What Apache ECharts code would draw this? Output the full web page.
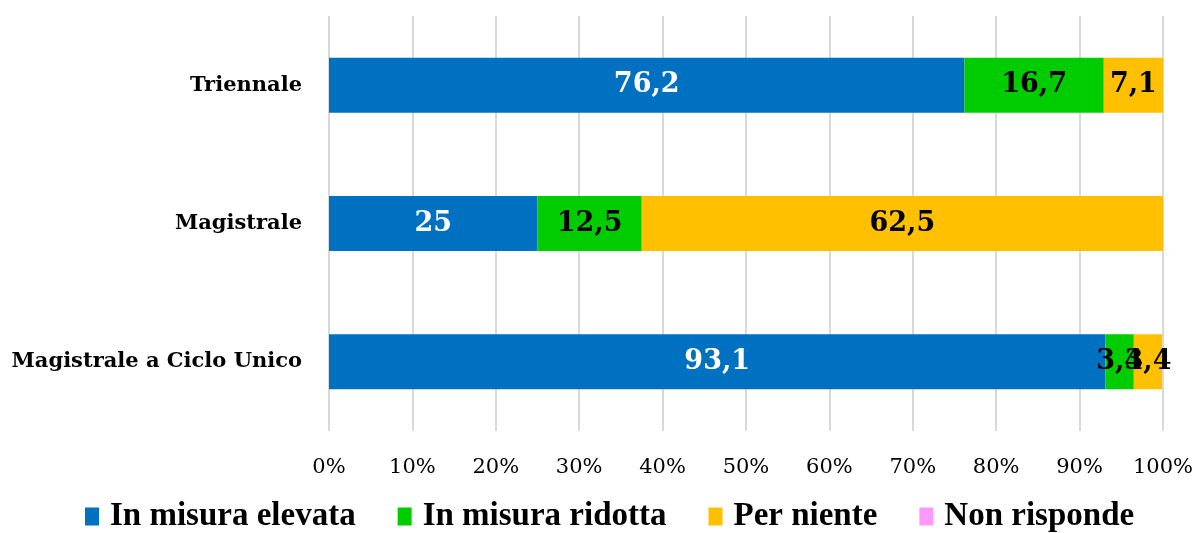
<!DOCTYPE html>
<html>
<head>
<meta charset="utf-8">
<script src="https://cdn.jsdelivr.net/npm/echarts@6/dist/echarts.min.js"></script>
<style>
  html, body { margin: 0; padding: 0; background: #fff; }
  #chart { width: 1196px; height: 533px; }
</style>
</head>
<body>
<div id="chart"></div>
<script>
// categories bottom -> top
const categories = ['Magistrale a Ciclo Unico', 'Magistrale', 'Triennale']
const elevata = [93.1, 25, 76.2]
const ridotta = [3.4, 12.5, 16.7]
const perNiente = [3.4, 62.5, 7.1]
const nonRisponde = [0, 0, 0]
const ticks = ['0%', '10%', '20%', '30%', '40%', '50%', '60%', '70%', '80%', '90%', '100%']

const serif = 'DejaVu Serif'

function series(name, data, color, labelColor) {
  return {
    name,
    type: 'bar',
    stack: 'total',
    data,
    barWidth: 55,
    itemStyle: { color },
    label: {
      show: true,
      position: 'inside',
      color: labelColor,
      fontFamily: serif,
      fontWeight: 'bold',
      fontSize: 27,
      formatter: p => (p.value ? String(p.value).replace('.', ',') : '')
    }
  }
}

const chart = echarts.init(document.getElementById('chart'))
chart.setOption({
  animation: false,
  grid: { left: 329, right: 33, top: 16, bottom: 102 },
  legend: {
    top: 495,
    left: 80,
    icon: 'rect',
    itemWidth: 14,
    itemHeight: 18,
    itemGap: 42,
    textStyle: {
      fontFamily: 'Liberation Serif',
      fontWeight: 'bold',
      fontSize: 33,
      color: '#000',
      padding: [0, 0, 0, 6]
    },
    data: ['In misura elevata', 'In misura ridotta', 'Per niente', 'Non risponde']
  },
  xAxis: {
    type: 'value',
    min: 0,
    max: 100,
    interval: 10,
    axisLine: { show: false },
    axisTick: { show: false },
    axisLabel: {
      margin: 26,
      color: '#000',
      fontFamily: serif,
      fontSize: 21,
      formatter: v => ticks[Math.round(v / 10)]
    },
    splitLine: { lineStyle: { color: '#d9d9d9', width: 2 } }
  },
  yAxis: {
    type: 'category',
    data: categories,
    axisLine: { show: false },
    axisTick: { show: false },
    axisLabel: {
      margin: 27,
      color: '#000',
      fontFamily: serif,
      fontWeight: 'bold',
      fontSize: 21
    }
  },
  series: [
    series('In misura elevata', elevata, '#0070C0', '#fff'),
    series('In misura ridotta', ridotta, '#00CC00', '#000'),
    series('Per niente', perNiente, '#FFC000', '#000'),
    series('Non risponde', nonRisponde, '#FF99FF', '#000')
  ]
})
</script>
</body>
</html>
